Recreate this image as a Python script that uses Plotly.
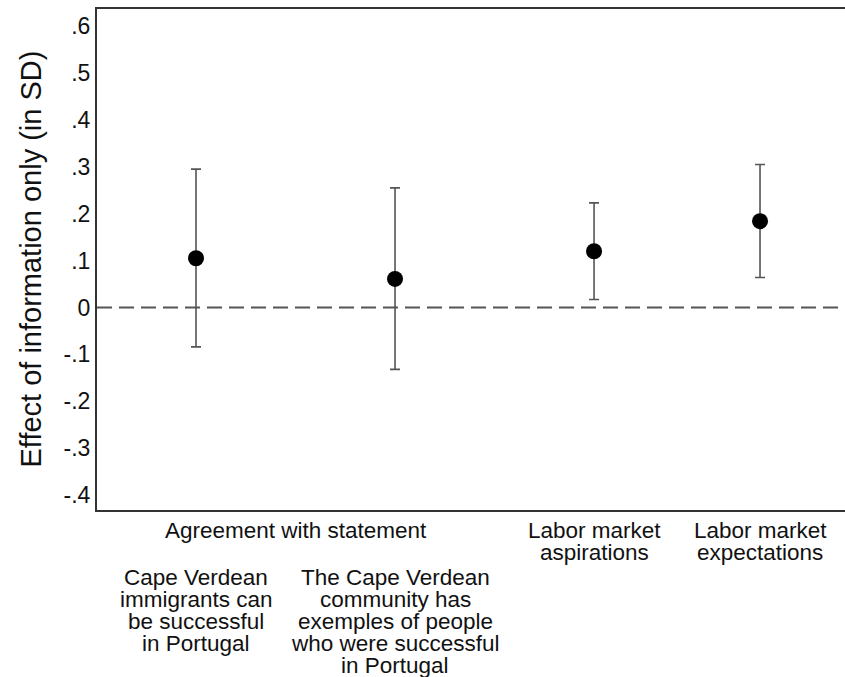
import plotly.graph_objects as go

# Point estimates and 95% confidence bounds (effect in SD)
positions = [1, 2, 3, 3.834]
estimates = [0.105, 0.061, 0.120, 0.184]
upper = [0.295, 0.255, 0.223, 0.305]
lower = [-0.084, -0.132, 0.017, 0.064]

y_ticks = [0.6, 0.5, 0.4, 0.3, 0.2, 0.1, 0, -0.1, -0.2, -0.3, -0.4]
y_tick_text = [".6", ".5", ".4", ".3", ".2", ".1", "0", "-.1", "-.2", "-.3", "-.4"]

group_label = "Agreement with statement"
category_lines = [
    ["Cape Verdean", "immigrants can", "be successful", "in Portugal"],
    ["The Cape Verdean", "community has", "exemples of people", "who were successful", "in Portugal"],
    ["Labor market", "aspirations"],
    ["Labor market", "expectations"],
]

FONT = "Liberation Sans, Arial, sans-serif"
TXT = "#111111"
W, H = 845, 677
M_L, M_R, M_T, M_B = 97, 0, 9, 167
plot_h = H - M_T - M_B


def paper_y(pix):
    return (H - M_B - pix) / plot_h


fig = go.Figure()
fig.add_trace(go.Scatter(
    x=positions, y=estimates, mode="markers",
    marker=dict(color="black", size=16),
    error_y=dict(type="data", symmetric=False,
                 array=[u - e for u, e in zip(upper, estimates)],
                 arrayminus=[e - l for e, l in zip(estimates, lower)],
                 color="#555555", thickness=1.6, width=5),
    showlegend=False, hoverinfo="skip",
))

# zero reference line
fig.add_shape(type="line", xref="paper", x0=0, x1=1, yref="y", y0=0, y1=0,
              line=dict(color="#555555", width=2, dash="15px,7px"), layer="below")

annotations = []
# group heading under the two statement items
annotations.append(dict(x=1.5, xref="x", y=paper_y(530), yref="paper",
                        text=group_label, showarrow=False, yanchor="middle",
                        font=dict(family=FONT, size=22.5, color=TXT)))
starts = [577, 577, 530, 530]
for pos, lines, y0 in zip(positions, category_lines, starts):
    for i, line in enumerate(lines):
        annotations.append(dict(x=pos, xref="x", y=paper_y(y0 + 22 * i), yref="paper",
                                text=line, showarrow=False, yanchor="middle",
                                font=dict(family=FONT, size=22.5, color=TXT)))
# vertical axis title
annotations.append(dict(x=(30 - M_L) / (W - M_L - M_R), xref="paper", y=0.5, yref="paper",
                        text="Effect of information only (in SD)", textangle=-90,
                        showarrow=False, xanchor="center", yanchor="middle",
                        font=dict(family=FONT, size=29, color=TXT)))

fig.update_layout(
    width=W, height=H,
    margin=dict(l=M_L, r=M_R, t=M_T, b=M_B),
    paper_bgcolor="white", plot_bgcolor="white",
    annotations=annotations,
    xaxis=dict(range=[0.5025, 4.261], showgrid=False, zeroline=False,
               showticklabels=False, ticks="", showline=True, mirror=True,
               linecolor="#333333", linewidth=2, fixedrange=True),
    yaxis=dict(range=[-0.4318, 0.6365], showgrid=False, zeroline=False,
               tickvals=y_ticks, ticktext=y_tick_text, ticks="",
               ticklabelstandoff=0,
               tickfont=dict(family=FONT, size=23, color=TXT),
               showline=True, mirror=False, linecolor="#333333", linewidth=2,
               fixedrange=True),
)

fig.write_html("out.html")
